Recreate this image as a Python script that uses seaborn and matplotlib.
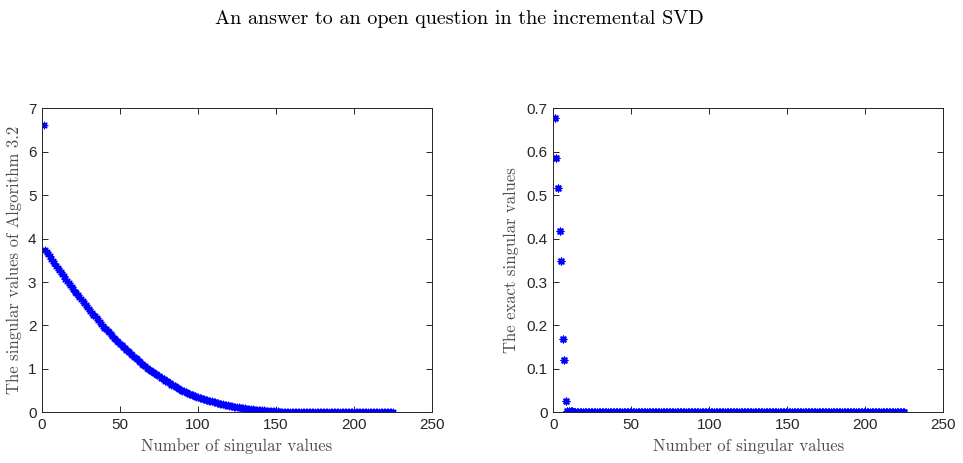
import numpy as np
import pandas as pd
import matplotlib
matplotlib.use("Agg")
import matplotlib.pyplot as plt
import seaborn as sns

# %% data
# left panel: singular values of Algorithm 3.2 (index 1..225)
alg_vals = [
    6.62,
    3.74, 3.69, 3.64, 3.59, 3.54, 3.49, 3.44, 3.38, 3.33,
    3.28, 3.23, 3.18, 3.13, 3.08, 3.02, 2.98, 2.93, 2.88, 2.83,
    2.78, 2.74, 2.69, 2.65, 2.60, 2.56, 2.51, 2.47, 2.42, 2.38,
    2.34, 2.29, 2.25, 2.21, 2.16, 2.12, 2.08, 2.03, 1.99, 1.95,
    1.91, 1.87, 1.84, 1.80, 1.76, 1.72, 1.69, 1.65, 1.62, 1.58,
    1.55, 1.51, 1.48, 1.44, 1.41, 1.38, 1.34, 1.31, 1.28, 1.25,
    1.22, 1.18, 1.15, 1.12, 1.09, 1.06, 1.03, 1.00, 0.98, 0.95,
    0.93, 0.90, 0.88, 0.85, 0.83, 0.80, 0.78, 0.76, 0.73, 0.71,
    0.69, 0.67, 0.64, 0.62, 0.60, 0.58, 0.56, 0.54, 0.52, 0.50,
    0.48, 0.47, 0.45, 0.43, 0.42, 0.40, 0.39, 0.37, 0.36, 0.35,
    0.33, 0.32, 0.31, 0.30, 0.29, 0.28, 0.27, 0.26, 0.25, 0.24,
    0.23, 0.22, 0.21, 0.20, 0.19, 0.18, 0.175, 0.165, 0.16, 0.15,
    0.145, 0.14, 0.13, 0.125, 0.12, 0.115, 0.11, 0.10, 0.095, 0.09,
    0.085, 0.08, 0.076, 0.072, 0.068, 0.064, 0.06, 0.057, 0.053, 0.05,
    0.047, 0.044, 0.041, 0.038, 0.035, 0.033, 0.030, 0.028, 0.025, 0.022,
    0.020, 0.018, 0.016, 0.014, 0.013, 0.012, 0.011, 0.009, 0.008, 0.007,
    0.006, 0.006, 0.005, 0.005, 0.004, 0.004, 0.003, 0.003, 0.002, 0.002,
    0.002, 0.002, 0.001, 0.001, 0.001, 0.001, 0.001, 0.001, 0.001, 0.001,
    0.001, 0.001, 0.001, 0.001, 0.001, 0.0, 0.0, 0.0, 0.0, 0.0,
    0.0, 0.0, 0.0, 0.0, 0.0, 0.0, 0.0, 0.0, 0.0, 0.0,
    0.0, 0.0, 0.0, 0.0, 0.0, 0.0, 0.0, 0.0, 0.0, 0.0,
    0.0, 0.0, 0.0, 0.0, 0.0, 0.0, 0.0, 0.0, 0.0, 0.0,
    0.0, 0.0, 0.0, 0.0, 0.0,
]

# right panel: exact singular values (index 1..225)
exact_vals = [
    0.678, 0.585, 0.517, 0.417, 0.348, 0.168, 0.121, 0.027, 0.004, 0.003,
    0.002, 0.002, 0.001, 0.001, 0.001, 0.0, 0.0, 0.0, 0.0, 0.0,
    0.0, 0.0, 0.0, 0.0, 0.0, 0.0, 0.0, 0.0, 0.0, 0.0,
    0.0, 0.0, 0.0, 0.0, 0.0, 0.0, 0.0, 0.0, 0.0, 0.0,
    0.0, 0.0, 0.0, 0.0, 0.0, 0.0, 0.0, 0.0, 0.0, 0.0,
    0.0, 0.0, 0.0, 0.0, 0.0, 0.0, 0.0, 0.0, 0.0, 0.0,
    0.0, 0.0, 0.0, 0.0, 0.0, 0.0, 0.0, 0.0, 0.0, 0.0,
    0.0, 0.0, 0.0, 0.0, 0.0, 0.0, 0.0, 0.0, 0.0, 0.0,
    0.0, 0.0, 0.0, 0.0, 0.0, 0.0, 0.0, 0.0, 0.0, 0.0,
    0.0, 0.0, 0.0, 0.0, 0.0, 0.0, 0.0, 0.0, 0.0, 0.0,
    0.0, 0.0, 0.0, 0.0, 0.0, 0.0, 0.0, 0.0, 0.0, 0.0,
    0.0, 0.0, 0.0, 0.0, 0.0, 0.0, 0.0, 0.0, 0.0, 0.0,
    0.0, 0.0, 0.0, 0.0, 0.0, 0.0, 0.0, 0.0, 0.0, 0.0,
    0.0, 0.0, 0.0, 0.0, 0.0, 0.0, 0.0, 0.0, 0.0, 0.0,
    0.0, 0.0, 0.0, 0.0, 0.0, 0.0, 0.0, 0.0, 0.0, 0.0,
    0.0, 0.0, 0.0, 0.0, 0.0, 0.0, 0.0, 0.0, 0.0, 0.0,
    0.0, 0.0, 0.0, 0.0, 0.0, 0.0, 0.0, 0.0, 0.0, 0.0,
    0.0, 0.0, 0.0, 0.0, 0.0, 0.0, 0.0, 0.0, 0.0, 0.0,
    0.0, 0.0, 0.0, 0.0, 0.0, 0.0, 0.0, 0.0, 0.0, 0.0,
    0.0, 0.0, 0.0, 0.0, 0.0, 0.0, 0.0, 0.0, 0.0, 0.0,
    0.0, 0.0, 0.0, 0.0, 0.0, 0.0, 0.0, 0.0, 0.0, 0.0,
    0.0, 0.0, 0.0, 0.0, 0.0, 0.0, 0.0, 0.0, 0.0, 0.0,
    0.0, 0.0, 0.0, 0.0, 0.0,
]

left_yticks = [0, 1, 2, 3, 4, 5, 6, 7]
right_yticks = [0, 0.1, 0.2, 0.3, 0.4, 0.5, 0.6, 0.7]
xticks = [0, 50, 100, 150, 200, 250]

title_txt = "An answer to an open question in the incremental SVD"
xlab = "Number of singular values"
left_ylab = "The singular values of Algorithm 3.2"
right_ylab = "The exact singular values"

# %% style
sns.set_style("ticks")
plt.rcParams["font.family"] = ["Liberation Sans", "DejaVu Sans"]
axcol = (0.15, 0.15, 0.15)
serif = ["cmr10", "DejaVu Serif"]

df_left = pd.DataFrame({"idx": np.arange(1, len(alg_vals) + 1), "val": alg_vals})
df_right = pd.DataFrame({"idx": np.arange(1, len(exact_vals) + 1), "val": exact_vals})

fig = plt.figure(figsize=(9.63, 4.63), dpi=100)
ax1 = fig.add_axes([0.0436, 0.1095, 0.405, 0.6566])
ax2 = fig.add_axes([0.5746, 0.1095, 0.405, 0.6566])

def style_axis(ax, yticks, ylim, ylab, ylab_x):
    ax.set_xlim(0, 250)
    ax.set_ylim(*ylim)
    ax.set_xticks(xticks)
    ax.set_yticks(yticks)
    ax.set_yticklabels(["%g" % t for t in yticks])
    ax.tick_params(direction="in", length=4, width=0.7, top=True, right=True,
                   labelsize=11, colors=axcol, pad=4)
    for s in ax.spines.values():
        s.set_visible(True)
        s.set_color(axcol)
        s.set_linewidth(0.7)
    ax.set_xlabel(xlab, family=serif, fontsize=12, color=(0.3, 0.3, 0.3))
    ax.set_ylabel(ylab, family=serif, fontsize=12, color=(0.3, 0.3, 0.3))
    ax.xaxis.set_label_coords(0.5, -0.085)
    ax.yaxis.set_label_coords(ylab_x, 0.5)

sns.scatterplot(data=df_left, x="idx", y="val", ax=ax1, marker=(8, 2, 0),
                color="blue", s=22, linewidth=0.9, legend=False)
sns.scatterplot(data=df_right, x="idx", y="val", ax=ax2, marker=(8, 2, 0),
                color="blue", s=22, linewidth=1.1, legend=False)

style_axis(ax1, left_yticks, (0, 7), left_ylab, -0.052)
style_axis(ax2, right_yticks, (0, 0.7), right_ylab, -0.088)

fig.text(0.477, 0.960, title_txt, family=serif, fontsize=14.5, ha="center", va="center",
         color="black")

fig.savefig("out.png", dpi=100)
